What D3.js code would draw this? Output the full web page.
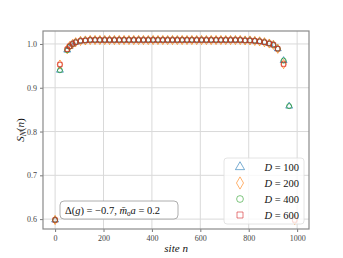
<!DOCTYPE html>
<meta charset="utf-8">
<style>
body { margin: 0; background: #fff; }
text { font-family: "Liberation Serif", "DejaVu Serif", serif; }
.grid line { stroke: #d9d9d9; stroke-width: 1; }
.mk { fill: none; stroke-width: 1; }
</style>
<body>
<script src="https://d3js.org/d3.v7.min.js"></script>
<script>

// site positions along the chain
var sites = [0, 20, 50, 60, 72, 85, 105, 125, 145, 165, 185, 205, 225, 245, 265, 285, 305, 325, 345,
             365, 385, 405, 425, 445, 465, 485, 505, 525, 545, 565, 585, 605, 625, 645, 665, 685,
             705, 725, 745, 765, 785, 805, 825, 845, 865, 885, 902, 920, 944, 967, 990, 999];

// S_N(n) per bond dimension (null = no point)
var plateau = [1.008, 1.009, 1.009, 1.009, 1.009, 1.009, 1.009, 1.009, 1.009, 1.009, 1.009, 1.009,
               1.009, 1.009, 1.009, 1.009, 1.009, 1.009, 1.009, 1.009, 1.009, 1.009, 1.009, 1.009,
               1.009, 1.009, 1.009, 1.009, 1.009, 1.009, 1.009, 1.009, 1.009, 1.008, 1.008, 1.007];
var sD100 = [0.598, 0.940, 0.986, 0.994, 1.000, 1.004, 1.007].concat(plateau, [1.006, 1.004, 1.001, 0.998, 0.989, 0.962, 0.858, null]);
var sD200 = [0.598, 0.953, 0.988, 0.995, 1.000, 1.004, 1.007].concat(plateau, [1.006, 1.004, 1.001, 0.998, 0.989, 0.954, null, 0.598]);
var sD400 = [0.598, 0.940, 0.986, 0.994, 1.000, 1.004, 1.007].concat(plateau, [1.006, 1.004, 1.001, 0.998, 0.989, 0.962, 0.858, null]);
var sD600 = [0.598, 0.953, 0.988, 0.995, 1.000, 1.004, 1.007].concat(plateau, [1.006, 1.004, 1.001, 0.998, 0.989, 0.954, null, 0.598]);

var labels = ["100", "200", "400", "600"];
var xTicks = [0, 200, 400, 600, 800, 1000];
var yTicks = [0.6, 0.7, 0.8, 0.9, 1.0];

var series = [
    {D: labels[0], vals: sD100, shape: d3.symbolTriangle, size: 20, color: "#1f77b4"},
    {D: labels[1], vals: sD200, shape: d3.symbolDiamond, size: 24, color: "#ff7f0e"},
    {D: labels[2], vals: sD400, shape: d3.symbolCircle, size: 20, color: "#2ca02c"},
    {D: labels[3], vals: sD600, shape: d3.symbolSquare, size: 20, color: "#d62728"}
];

var W = 343, H = 258;
var margin = {top: 31, right: 34, bottom: 29, left: 43},
    width = W - margin.left - margin.right,
    height = H - margin.top - margin.bottom;

var svg = d3.select("body").append("svg")
    .attr("width", W)
    .attr("height", H)
  .append("g")
    .attr("transform", "translate(" + margin.left + "," + margin.top + ")");

var x = d3.scaleLinear().domain([-50, 1049]).range([0, width]);
var y = d3.scaleLinear().domain([0.5774, 1.0296]).range([height, 0]);

// grid
svg.append("g").attr("class", "grid")
    .selectAll("line").data(xTicks).enter().append("line")
    .attr("x1", function(d) { return x(d); }).attr("x2", function(d) { return x(d); })
    .attr("y1", 0).attr("y2", height);
svg.append("g").attr("class", "grid")
    .selectAll("line").data(yTicks).enter().append("line")
    .attr("y1", function(d) { return y(d); }).attr("y2", function(d) { return y(d); })
    .attr("x1", 0).attr("x2", width);

// axes
var xAxis = d3.axisBottom(x).tickValues(xTicks).tickSize(3).tickPadding(3).tickFormat(d3.format("d"));
var yAxis = d3.axisLeft(y).tickValues(yTicks).tickSize(3).tickPadding(3).tickFormat(d3.format(".1f"));

var gX = svg.append("g").attr("transform", "translate(0," + height + ")").call(xAxis);
var gY = svg.append("g").call(yAxis);
[gX, gY].forEach(function(g) {
    g.select(".domain").remove();
    g.selectAll(".tick line").attr("stroke", "#555").attr("stroke-width", 0.8);
    g.selectAll(".tick text").attr("fill", "#444").style("font-size", "8px");
});

// frame
svg.append("rect")
    .attr("width", width).attr("height", height)
    .attr("fill", "none").attr("stroke", "#8a8a8a").attr("stroke-width", 1.2);

// markers
series.forEach(function(s) {
    var pts = sites.map(function(n, i) { return {n: n, v: s.vals[i]}; })
        .filter(function(d) { return d.v != null; });
    svg.append("g").selectAll("path").data(pts).enter().append("path")
        .attr("class", "mk")
        .attr("d", d3.symbol().type(s.shape).size(s.size))
        .attr("transform", function(d) { return "translate(" + x(d.n) + "," + y(d.v) + ")"; })
        .attr("stroke", s.color)
        .attr("stroke-opacity", 0.75);
});

// annotation box
var ann = svg.append("g").attr("transform", "translate(17,170)");
ann.append("rect")
    .attr("width", 118).attr("height", 18).attr("rx", 4)
    .attr("fill", "#fff").attr("stroke", "#999").attr("stroke-width", 0.8);
var at = ann.append("text").attr("x", 5).attr("y", 13).style("font-size", "10.5px").attr("fill", "#111");
at.append("tspan").text("Δ(");
at.append("tspan").style("font-style", "italic").text("g");
at.append("tspan").text(") = −0.7, ");
at.append("tspan").style("font-style", "italic").text("m̄");
at.append("tspan").attr("dy", 2).style("font-size", "7px").text("0");
at.append("tspan").attr("dy", -2).style("font-style", "italic").text("a");
at.append("tspan").text(" = 0.2");

// legend
var leg = svg.append("g").attr("transform", "translate(" + (width - 85) + "," + (height - 71) + ")");
leg.append("rect")
    .attr("width", 80).attr("height", 66).attr("rx", 3)
    .attr("fill", "#fff").attr("fill-opacity", 0.8)
    .attr("stroke", "#ddd").attr("stroke-width", 0.8);
series.forEach(function(s, i) {
    var row = leg.append("g").attr("transform", "translate(0," + (9 + i * 16) + ")");
    row.append("path")
        .attr("d", d3.symbol().type(s.shape).size(s.size * 1.8))
        .attr("transform", "translate(16,0)")
        .attr("fill", "none").attr("stroke", s.color).attr("stroke-opacity", 0.6);
    var t = row.append("text").attr("x", 75).attr("y", 4).attr("text-anchor", "end")
        .style("font-size", "10.5px").attr("fill", "#111");
    t.append("tspan").style("font-style", "italic").text("D");
    t.append("tspan").text(" = " + s.D);
});

// axis labels
var xl = svg.append("text")
    .attr("x", x(500)).attr("y", height + 23)
    .attr("text-anchor", "middle").style("font-size", "11px").attr("fill", "#111");
xl.append("tspan").style("font-style", "italic").text("site ");
xl.append("tspan").style("font-style", "italic").text("n");

var yl = svg.append("text")
    .attr("transform", "translate(-19," + (height / 2) + ") rotate(-90)")
    .attr("text-anchor", "middle").style("font-size", "11px").attr("fill", "#111");
yl.append("tspan").style("font-style", "italic").text("S");
yl.append("tspan").attr("dy", 2).style("font-size", "7.5px").style("font-style", "italic").text("N");
yl.append("tspan").attr("dy", -2).text("(");
yl.append("tspan").style("font-style", "italic").text("n");
yl.append("tspan").text(")");

</script>
</body>
